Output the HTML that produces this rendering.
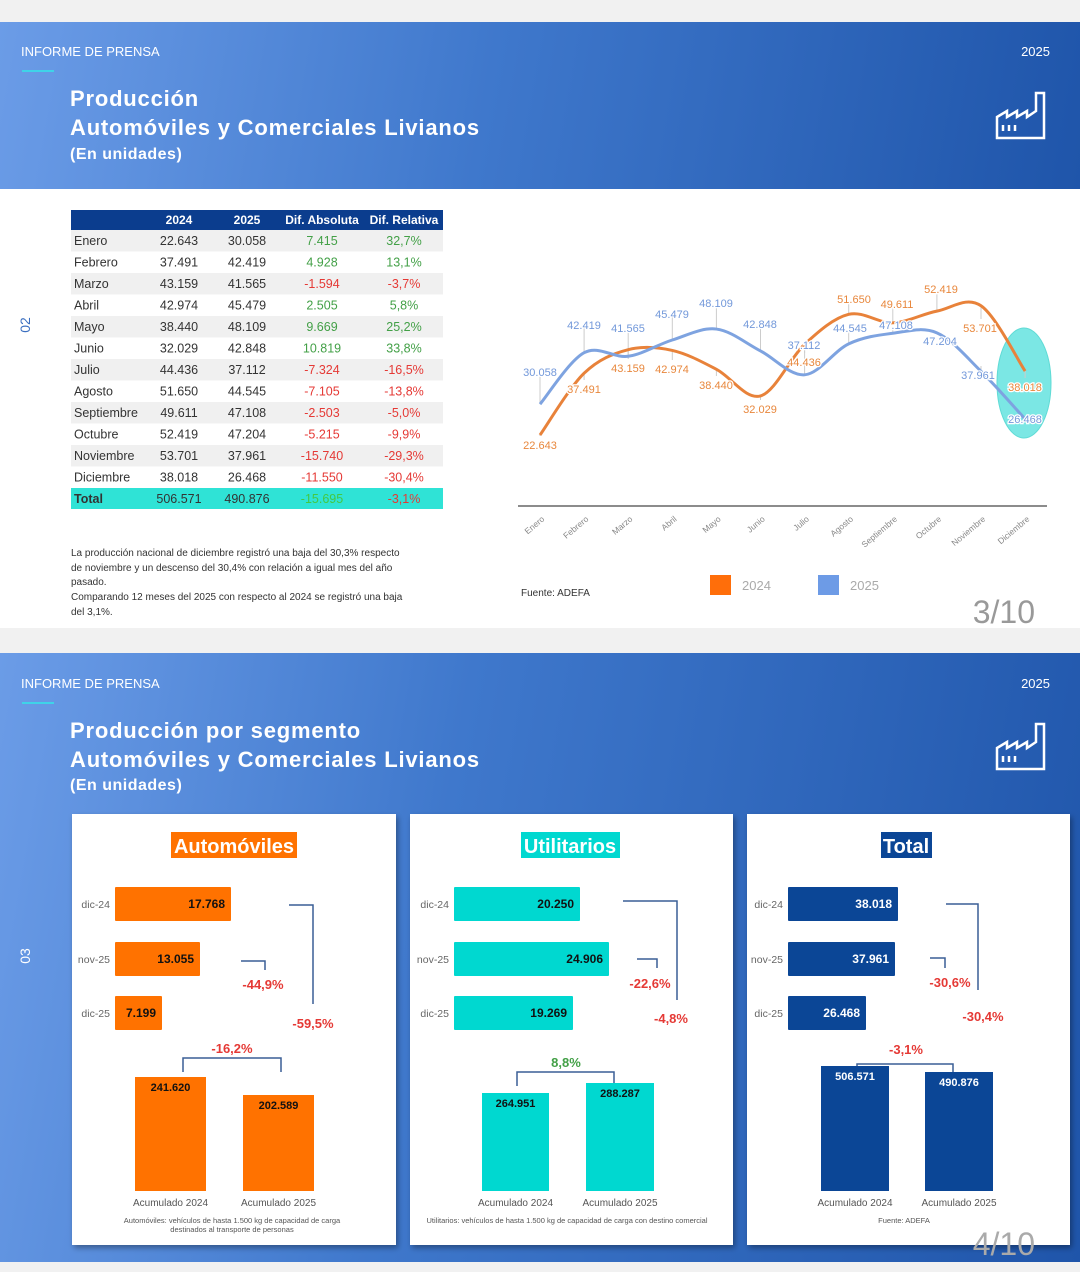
<!DOCTYPE html>
<html><head><meta charset="utf-8"><style>
html,body{margin:0;padding:0}
body{width:1080px;height:1272px;background:#f1f1f1;position:relative;overflow:hidden;font-family:"Liberation Sans",sans-serif}
.hdr{position:absolute;left:0;width:1080px;background:linear-gradient(100deg,#6b9ce7 0%,#3f78cc 45%,#1f55aa 100%)}
svg{position:absolute;left:0;top:0}
</style></head><body>
<div class="hdr" style="top:22px;height:167px"></div>
<div style="position:absolute;left:0;top:189px;width:1080px;height:439px;background:#fff"></div>
<div class="hdr" style="top:653px;height:609px;background:linear-gradient(100deg,#6b9ce7 0%,#3f78cc 40%,#1f55aa 100%)"></div>
<svg width="1080" height="1272" viewBox="0 0 1080 1272" font-family="Liberation Sans, sans-serif">
<defs><filter id="sh"><feDropShadow dx="2" dy="3" stdDeviation="3" flood-opacity="0.35"/></filter></defs>
<text x="21" y="56" font-size="13" fill="#fff">INFORME DE PRENSA</text>
<rect x="22" y="70" width="32" height="2" fill="#3fd3e8"/>
<text x="1050" y="56" font-size="13" fill="#fff" text-anchor="end">2025</text>
<text x="70" y="106" font-size="22" font-weight="bold" fill="#fff" letter-spacing="0.8">Producción</text>
<text x="70" y="135" font-size="22" font-weight="bold" fill="#fff" letter-spacing="0.8">Automóviles y Comerciales Livianos</text>
<text x="70" y="159" font-size="16" font-weight="bold" fill="#fff" letter-spacing="0.5">(En unidades)</text>
<g id="fac" fill="none" stroke="#fff" stroke-width="2.5">
<path d="M997 138 V117 L1007 111 V117 L1017 111 V117 L1027 111 V117 L1036 111 V93 H1044 V138 Z"/>
<path d="M1003 125 V131 M1009 125 V131 M1015 125 V131"/>
</g>
<rect x="71" y="210" width="372" height="20" fill="#0b3d8e"/>
<g font-size="12" font-weight="bold" fill="#fff" text-anchor="middle">
<text x="179" y="224">2024</text><text x="247" y="224">2025</text><text x="322" y="224">Dif. Absoluta</text><text x="404" y="224">Dif. Relativa</text></g>
<g id="tbl" font-size="12.5" fill="#333"></g>
<text x="30" y="325" font-size="14" fill="#3b6fc0" transform="rotate(-90 30 325)" text-anchor="middle">02</text>
<g font-size="10" fill="#333">
<text x="71" y="556">La producción nacional de diciembre registró una baja del 30,3% respecto</text>
<text x="71" y="571">de noviembre y un descenso del 30,4% con relación a igual mes del año</text>
<text x="71" y="585">pasado.</text>
<text x="71" y="600">Comparando 12 meses del 2025 con respecto al 2024 se registró una baja</text>
<text x="71" y="615">del 3,1%.</text>
<text x="521" y="596">Fuente: ADEFA</text></g>
<line x1="518" y1="506" x2="1047" y2="506" stroke="#666" stroke-width="1.5"/>
<ellipse cx="1024" cy="383" rx="27" ry="55" fill="#4fe0dc" opacity="0.75" stroke="#2bcfc8"/>
<g id="ch"></g>
<rect x="710" y="575" width="21" height="20" fill="#ff6e0a"/><text x="742" y="590" font-size="13" fill="#aaa">2024</text>
<rect x="818" y="575" width="21" height="20" fill="#6d9be6"/><text x="850" y="590" font-size="13" fill="#aaa">2025</text>
<text x="1035" y="623" font-size="32" fill="#999" text-anchor="end">3/10</text>
<text x="21" y="688" font-size="13" fill="#fff">INFORME DE PRENSA</text>
<rect x="22" y="702" width="32" height="2" fill="#3fd3e8"/>
<text x="1050" y="688" font-size="13" fill="#fff" text-anchor="end">2025</text>
<text x="70" y="738" font-size="22" font-weight="bold" fill="#fff" letter-spacing="0.8">Producción por segmento</text>
<text x="70" y="767" font-size="22" font-weight="bold" fill="#fff" letter-spacing="0.8">Automóviles y Comerciales Livianos</text>
<text x="70" y="790" font-size="16" font-weight="bold" fill="#fff" letter-spacing="0.5">(En unidades)</text>
<use href="#fac" transform="translate(0,631)"/>
<text x="30" y="956" font-size="14" fill="#fff" transform="rotate(-90 30 956)" text-anchor="middle">03</text>
<rect x="72" y="814" width="324" height="431" fill="#fff" filter="url(#sh)"/>
<rect x="410" y="814" width="323" height="431" fill="#fff" filter="url(#sh)"/>
<rect x="747" y="814" width="323" height="431" fill="#fff" filter="url(#sh)"/>
<g id="pn"></g>
<text x="1035" y="1255" font-size="32" fill="#aaa" text-anchor="end">4/10</text>
</svg>
<script>
var NS="http://www.w3.org/2000/svg";
function el(p,t,a,txt){var e=document.createElementNS(NS,t);for(var k in a)e.setAttribute(k,a[k]);if(txt!=null)e.textContent=txt;p.appendChild(e);return e;}
var rows=[["Enero","22.643","30.058","7.415","32,7%",1],["Febrero","37.491","42.419","4.928","13,1%",1],["Marzo","43.159","41.565","-1.594","-3,7%",0],["Abril","42.974","45.479","2.505","5,8%",1],["Mayo","38.440","48.109","9.669","25,2%",1],["Junio","32.029","42.848","10.819","33,8%",1],["Julio","44.436","37.112","-7.324","-16,5%",0],["Agosto","51.650","44.545","-7.105","-13,8%",0],["Septiembre","49.611","47.108","-2.503","-5,0%",0],["Octubre","52.419","47.204","-5.215","-9,9%",0],["Noviembre","53.701","37.961","-15.740","-29,3%",0],["Diciembre","38.018","26.468","-11.550","-30,4%",0],["Total","506.571","490.876","-15.695","-3,1%",2]];
var tb=document.getElementById("tbl");
rows.forEach(function(r,i){var y=230+i*21.5;
 if(r[5]==2)el(tb,"rect",{x:71,y:y,width:372,height:21,fill:"#2fe3d6"});
 else if(i%2==0)el(tb,"rect",{x:71,y:y,width:372,height:21.5,fill:"#f0f0f0"});
 var ty=y+15;var c=r[5]==1?"#43a047":"#e53935";var g=r[5]==2?"#43c943":c;
 el(tb,"text",{x:74,y:ty,"font-weight":r[5]==2?"bold":"normal"},r[0]);
 el(tb,"text",{x:179,y:ty,"text-anchor":"middle"},r[1]);
 el(tb,"text",{x:247,y:ty,"text-anchor":"middle"},r[2]);
 el(tb,"text",{x:322,y:ty,"text-anchor":"middle",fill:g},r[3]);
 el(tb,"text",{x:404,y:ty,"text-anchor":"middle",fill:c},r[4]);
});
var ch=document.getElementById("ch");
var a=[22.643,37.491,43.159,42.974,38.440,32.029,44.436,51.650,49.611,52.419,53.701,38.018];
var b=[30.058,42.419,41.565,45.479,48.109,42.848,37.112,44.545,47.108,47.204,37.961,26.468];
function P(v){return v.map(function(x,i){return [540+44.1*i,435-(x-22.643)*4.16];});}
function path(p){var d="M"+p[0][0]+" "+p[0][1];for(var i=0;i<p.length-1;i++){var p0=p[i-1]||p[i],p1=p[i],p2=p[i+1],p3=p[i+2]||p2;
 d+=" C"+(p1[0]+(p2[0]-p0[0])/6)+" "+(p1[1]+(p2[1]-p0[1])/6)+" "+(p2[0]-(p3[0]-p1[0])/6)+" "+(p2[1]-(p3[1]-p1[1])/6)+" "+p2[0]+" "+p2[1];}return d;}
var months=["Enero","Febrero","Marzo","Abril","Mayo","Junio","Julio","Agosto","Septiembre","Octubre","Noviembre","Diciembre"];
var la=[[540,445],[584,389],[628,368],[672,369],[716,385],[760,409],[804,362],[854,299],[897,304],[941,289],[980,328],[1025,387]];
var lb=[[540,372],[584,325],[628,328],[672,314],[716,303],[760,324],[804,345],[850,328],[896,325],[940,341],[978,375],[1025,419]];
var pa=P(a),pb=P(b);
[[pa,la],[pb,lb]].forEach(function(s){s[0].forEach(function(p,i){el(ch,"line",{x1:p[0],y1:p[1],x2:p[0],y2:s[1][i][1]+(s[1][i][1]>p[1]?-9:3),stroke:"#ccc","stroke-width":1});});});
el(ch,"path",{d:path(pa),fill:"none",stroke:"#e8823a","stroke-width":3});
el(ch,"path",{d:path(pb),fill:"none",stroke:"#7ea3e0","stroke-width":3});
a.forEach(function(v,i){el(ch,"text",{x:la[i][0],y:la[i][1]+4,"font-size":11,fill:"#e8873c","text-anchor":"middle",stroke:"#fff","stroke-width":2.5,"paint-order":"stroke"},v.toFixed(3));});
b.forEach(function(v,i){el(ch,"text",{x:lb[i][0],y:lb[i][1]+4,"font-size":11,fill:"#7298da","text-anchor":"middle",stroke:"#fff","stroke-width":2.5,"paint-order":"stroke"},v.toFixed(3));});
months.forEach(function(m,i){var x=545+44.1*i;el(ch,"text",{x:x,y:520,"font-size":8.5,fill:"#888","text-anchor":"end",transform:"rotate(-40 "+x+" 520)"},m);});
var pn=document.getElementById("pn");
function panel(o){
 var t=el(pn,"text",{x:o.tx,y:853,"font-size":20,"font-weight":"bold",fill:"#fff","text-anchor":"middle"},o.title);
 el(pn,"rect",{x:o.tb[0],y:832,width:o.tb[1]-o.tb[0],height:26,fill:o.col});
 pn.appendChild(t);
 var lab=["dic-24","nov-25","dic-25"];
 o.bars.forEach(function(b,i){var y=[887,942,996][i];
  el(pn,"rect",{x:o.bx,y:y,width:b[0]-o.bx,height:34,fill:o.col,rx:1});
  el(pn,"text",{x:o.bx-5,y:y+21,"font-size":10.5,fill:"#666","text-anchor":"end"},lab[i]);
  el(pn,"text",{x:b[0]-6,y:y+21,"font-size":12,"font-weight":"bold",fill:o.vc,"text-anchor":"end"},b[1]);});
 var s={fill:"none",stroke:"#3a5f96","stroke-width":1.5};
 el(pn,"path",Object.assign({d:o.br1},s));el(pn,"path",Object.assign({d:o.br2},s));el(pn,"path",Object.assign({d:o.br3},s));
 o.pct.forEach(function(p){el(pn,"text",{x:p[0],y:p[1],"font-size":13,"font-weight":"bold",fill:p[3]||"#e53935","text-anchor":"middle"},p[2]);});
 o.cum.forEach(function(c,i){el(pn,"rect",{x:c[0],y:c[1],width:c[2]-c[0],height:1191-c[1],fill:o.col});
  el(pn,"text",{x:(c[0]+c[2])/2,y:c[1]+14,"font-size":11,"font-weight":"bold",fill:o.vc,"text-anchor":"middle"},c[3]);
  el(pn,"text",{x:(c[0]+c[2])/2,y:1206,"font-size":10,fill:"#555","text-anchor":"middle"},"Acumulado "+(2024+i));});
 o.foot.forEach(function(f,i){el(pn,"text",{x:o.fx,y:1223+i*9,"font-size":7.5,fill:"#555","text-anchor":"middle"},f);});
}
panel({title:"Automóviles",tx:234,tb:[171,297],col:"#ff7200",vc:"#111",bx:115,
 bars:[[231,"17.768"],[200,"13.055"],[162,"7.199"]],
 br1:"M289 905 H313 V1004",br2:"M241 961 H265 V970",br3:"M183 1072 V1058 H281 V1072",
 pct:[[263,989,"-44,9%"],[313,1028,"-59,5%"],[232,1053,"-16,2%"]],
 cum:[[135,1077,206,"241.620"],[243,1095,314,"202.589"]],fx:232,
 foot:["Automóviles: vehículos de hasta 1.500 kg de capacidad de carga","destinados al transporte de personas"]});
panel({title:"Utilitarios",tx:570,tb:[521,620],col:"#00d8d0",vc:"#111",bx:454,
 bars:[[580,"20.250"],[609,"24.906"],[573,"19.269"]],
 br1:"M623 901 H677 V1000",br2:"M637 959 H657 V968",br3:"M517 1086 V1072 H614 V1086",
 pct:[[650,988,"-22,6%"],[671,1023,"-4,8%"],[566,1067,"8,8%","#43a047"]],
 cum:[[482,1093,549,"264.951"],[586,1083,654,"288.287"]],fx:567,
 foot:["Utilitarios: vehículos de hasta 1.500 kg de capacidad de carga con destino comercial"]});
panel({title:"Total",tx:906,tb:[881,932],col:"#0b4696",vc:"#fff",bx:788,
 bars:[[898,"38.018"],[895,"37.961"],[866,"26.468"]],
 br1:"M946 904 H978 V990",br2:"M930 958 H945 V968",br3:"M857 1074 V1064 H953 V1074",
 pct:[[950,987,"-30,6%"],[983,1021,"-30,4%"],[906,1054,"-3,1%"]],
 cum:[[821,1066,889,"506.571"],[925,1072,993,"490.876"]],fx:904,
 foot:["Fuente: ADEFA"]});
</script>
</body></html>
